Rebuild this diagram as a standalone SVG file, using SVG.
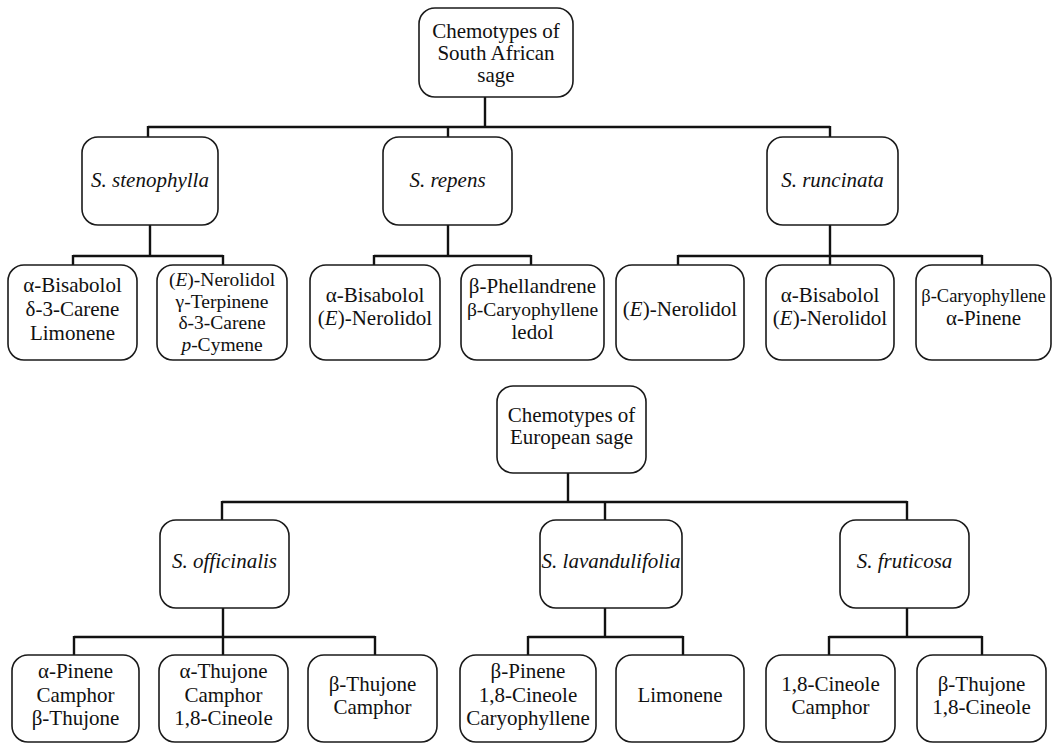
<svg xmlns="http://www.w3.org/2000/svg" width="1060" height="743" viewBox="0 0 1060 743">
<style>
.box{fill:#fff;stroke:#1a1a1a;stroke-width:1.6}
.t{font-family:"Liberation Serif","Times New Roman",serif;font-size:21px;fill:#111;text-anchor:middle}
.s{font-size:19.5px}
.xs{font-size:18.5px}
.i{font-style:italic}
.c{fill:none;stroke:#111;stroke-width:2.4}
</style>
<rect width="1060" height="743" fill="#fff"/>
<g id="connectors">
<path class="c" d="M485,97V127M148,127H830M148,126V137M448,127V137M830,126V137"/>
<path class="c" d="M150,225V256M73,256H223M73,255V265M223,255V265"/>
<path class="c" d="M448,225V256M374,256H531M374,255V265M531,255V265"/>
<path class="c" d="M830,225V265M678,256H982M678,255V265M982,255V265"/>
<path class="c" d="M568,473V502M222,502H907M222,501V520M605,501V520M907,501V520"/>
<path class="c" d="M223,608V655M74,637H375M74,636V655M375,636V655"/>
<path class="c" d="M605,608V637M528,637H683M528,636V655M683,636V655"/>
<path class="c" d="M907,608V637M829,637H982M829,636V655M982,636V655"/>
</g>
<g id="root-sa">
<rect class="box" x="419" y="8" width="154" height="89" rx="16"/>
<text class="t" x="496" y="38">Chemotypes of</text>
<text class="t" x="496" y="60">South African</text>
<text class="t" x="496" y="82">sage</text>
</g>
<g id="sp-stenophylla">
<rect class="box" x="82" y="137" width="136" height="88" rx="16"/>
<text class="t i" x="150" y="187">S. stenophylla</text>
</g>
<g id="sp-repens">
<rect class="box" x="383" y="137" width="129" height="88" rx="16"/>
<text class="t i" x="447.5" y="187">S. repens</text>
</g>
<g id="sp-runcinata">
<rect class="box" x="767" y="137" width="131" height="88" rx="16"/>
<text class="t i" x="832.5" y="187">S. runcinata</text>
</g>
<g id="ste-1">
<rect class="box" x="8" y="265" width="129" height="95" rx="16"/>
<text class="t" x="72.5" y="292">α-Bisabolol</text>
<text class="t" x="72.5" y="316">δ-3-Carene</text>
<text class="t" x="72.5" y="340">Limonene</text>
</g>
<g id="ste-2">
<rect class="box" x="157" y="265" width="130" height="95" rx="16"/>
<text class="t s" x="222" y="286">(<tspan class="i">E</tspan>)-Nerolidol</text>
<text class="t s" x="222" y="307.5">γ-Terpinene</text>
<text class="t s" x="222" y="329">δ-3-Carene</text>
<text class="t s" x="222" y="350.5"><tspan class="i">p</tspan>-Cymene</text>
</g>
<g id="rep-1">
<rect class="box" x="310" y="265" width="130" height="95" rx="16"/>
<text class="t" x="375" y="302">α-Bisabolol</text>
<text class="t" x="375" y="325">(<tspan class="i">E</tspan>)-Nerolidol</text>
</g>
<g id="rep-2">
<rect class="box" x="461" y="265" width="143" height="95" rx="16"/>
<text class="t" x="532.5" y="293">β-Phellandrene</text>
<text class="t s" x="532.5" y="316">β-Caryophyllene</text>
<text class="t" x="532.5" y="339">ledol</text>
</g>
<g id="run-1">
<rect class="box" x="616" y="265" width="128" height="95" rx="16"/>
<text class="t" x="680" y="316">(<tspan class="i">E</tspan>)-Nerolidol</text>
</g>
<g id="run-2">
<rect class="box" x="766" y="265" width="128" height="95" rx="16"/>
<text class="t" x="830" y="302">α-Bisabolol</text>
<text class="t" x="830" y="325">(<tspan class="i">E</tspan>)-Nerolidol</text>
</g>
<g id="run-3">
<rect class="box" x="916" y="265" width="135" height="95" rx="16"/>
<text class="t xs" x="983.5" y="302">β-Caryophyllene</text>
<text class="t" x="983.5" y="325">α-Pinene</text>
</g>
<g id="root-eu">
<rect class="box" x="497" y="386" width="149" height="87" rx="16"/>
<text class="t" x="571.5" y="422">Chemotypes of</text>
<text class="t" x="571.5" y="444">European sage</text>
</g>
<g id="sp-officinalis">
<rect class="box" x="160" y="520" width="129" height="88" rx="16"/>
<text class="t i" x="224.5" y="568">S. officinalis</text>
</g>
<g id="sp-lavandulifolia">
<rect class="box" x="540" y="520" width="142" height="88" rx="16"/>
<text class="t i" x="611" y="568">S. lavandulifolia</text>
</g>
<g id="sp-fruticosa">
<rect class="box" x="840" y="520" width="129" height="88" rx="16"/>
<text class="t i" x="904.5" y="568">S. fruticosa</text>
</g>
<g id="off-1">
<rect class="box" x="12" y="655" width="127" height="87" rx="16"/>
<text class="t" x="75.5" y="678">α-Pinene</text>
<text class="t" x="75.5" y="702">Camphor</text>
<text class="t" x="75.5" y="725">β-Thujone</text>
</g>
<g id="off-2">
<rect class="box" x="159" y="655" width="129" height="87" rx="16"/>
<text class="t" x="223.5" y="678">α-Thujone</text>
<text class="t" x="223.5" y="702">Camphor</text>
<text class="t" x="223.5" y="725">1,8-Cineole</text>
</g>
<g id="off-3">
<rect class="box" x="308" y="655" width="129" height="87" rx="16"/>
<text class="t" x="372.5" y="691">β-Thujone</text>
<text class="t" x="372.5" y="714">Camphor</text>
</g>
<g id="lav-1">
<rect class="box" x="460" y="655" width="136" height="87" rx="16"/>
<text class="t" x="528" y="678">β-Pinene</text>
<text class="t" x="528" y="702">1,8-Cineole</text>
<text class="t" x="528" y="725">Caryophyllene</text>
</g>
<g id="lav-2">
<rect class="box" x="616" y="655" width="128" height="87" rx="16"/>
<text class="t" x="680" y="702">Limonene</text>
</g>
<g id="fru-1">
<rect class="box" x="766" y="655" width="129" height="87" rx="16"/>
<text class="t" x="830.5" y="691">1,8-Cineole</text>
<text class="t" x="830.5" y="714">Camphor</text>
</g>
<g id="fru-2">
<rect class="box" x="917" y="655" width="129" height="87" rx="16"/>
<text class="t" x="981.5" y="691">β-Thujone</text>
<text class="t" x="981.5" y="714">1,8-Cineole</text>
</g>
</svg>
